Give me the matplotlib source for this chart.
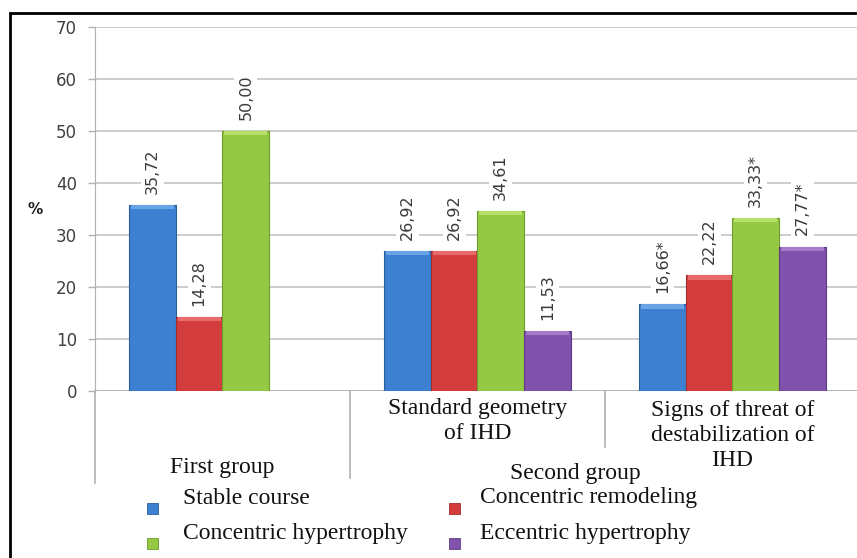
import matplotlib
matplotlib.use("Agg")
import matplotlib.pyplot as plt
import matplotlib.transforms as mtransforms
from matplotlib.patches import Rectangle
import numpy as np

# ---- data ----
categories = ["Standard geometry\nof IHD",
              "Signs of threat of\ndestabilization of\nIHD"]
groups = ["First group", "Second group"]
series = ["Stable course", "Concentric remodeling",
          "Concentric hypertrophy", "Eccentric hypertrophy"]
stable = [35.72, 26.92, 16.66]
remodeling = [14.28, 26.92, 22.22]
hypertrophy = [50.00, 34.61, 33.33]
eccentric = [np.nan, 11.53, 27.77]
labels_stable = ["35,72", "26,92", "16,66*"]
labels_remodeling = ["14,28", "26,92", "22,22"]
labels_hypertrophy = ["50,00", "34,61", "33,33*"]
labels_eccentric = ["", "11,53", "27,77*"]
yticks = [0, 10, 20, 30, 40, 50, 60, 70]

values = [stable, remodeling, hypertrophy, eccentric]
texts = [labels_stable, labels_remodeling, labels_hypertrophy, labels_eccentric]
colors = ["#3d80d2", "#d43d3d", "#95c943", "#8052ac"]
edges = ["#2a5f9e", "#a02c2c", "#6f9a2e", "#5e3c82"]
tops = ["#6aa3e6", "#e86a6a", "#b6e06a", "#a47cc9"]

W, H = 857, 558
fig = plt.figure(figsize=(W / 100, H / 100), dpi=100)
fig.patch.set_facecolor("white")

# plot area in pixel units
left, right, top, bottom = 95, 860, 27, 391
ax = fig.add_axes([left / W, 1 - bottom / H, (right - left) / W, (bottom - top) / H])
ax.set_xlim(-0.5, 2.5)
ax.set_ylim(0, 70)

x = np.arange(3)
bw = 0.1824
for i, (vals, lab) in enumerate(zip(values, texts)):
    xs = x + (i - 1.5) * bw
    v = np.array(vals, dtype=float)
    ok = ~np.isnan(v)
    ax.bar(xs[ok], v[ok], width=bw, color=colors[i], edgecolor=edges[i],
           linewidth=0.8, zorder=3)
    # light bevel cap on top of each bar
    ax.bar(xs[ok], np.full(ok.sum(), 0.8), bottom=v[ok] - 0.8, width=bw * 0.92,
           color=tops[i], linewidth=0, zorder=4)
    for xx, vv, tt in zip(xs, v, lab):
        if np.isnan(vv):
            continue
        ax.annotate(tt, (xx, vv), xytext=(0, 8), textcoords="offset points",
                    rotation=90, ha="center", va="bottom", fontsize=11.5,
                    color="#3a3a3a", family="DejaVu Sans", zorder=5,
                    bbox=dict(boxstyle="square,pad=0.25", fc="white", ec="none"))

# grid and axis styling
ax.set_yticks(yticks)
ax.set_yticklabels([str(t) for t in yticks], fontsize=12, color="#404040")
ax.yaxis.grid(True, color="#c3c3c3", linewidth=1.2, zorder=0)
ax.set_axisbelow(True)
ax.tick_params(axis="y", length=5, width=1, color="#b0b0b0", pad=8)
ax.set_xticks([])
for s in ["top", "right", "bottom"]:
    ax.spines[s].set_visible(False)
ax.spines["left"].set_color("#b0b0b0")
ax.spines["left"].set_bounds(0, 70)
ax.axhline(0, color="#b0b0b0", linewidth=1.2, zorder=2)

# y-axis caption
fig.text(35 / W, 1 - 210 / H, "%", fontsize=11, fontweight="bold",
         ha="center", va="center", color="#202020")

# multi-level category axis below the plot
trans = mtransforms.blended_transform_factory(ax.transData, ax.transAxes)
ph = bottom - top
def yfrac(py):
    return (bottom - py) / ph

ax.plot([-0.5, -0.5], [0, yfrac(483)], transform=trans, color="#b0b0b0",
        lw=1.2, clip_on=False)
ax.plot([0.5, 0.5], [0, yfrac(478)], transform=trans, color="#b0b0b0",
        lw=1.2, clip_on=False)
ax.plot([1.5, 1.5], [0, yfrac(447)], transform=trans, color="#b0b0b0",
        lw=1.2, clip_on=False)

serif = "Liberation Serif"
ax.text(1, yfrac(398), categories[0], transform=trans, ha="center", va="top",
        fontsize=17, family=serif, linespacing=1.25, color="#111111")
ax.text(2, yfrac(400), categories[1], transform=trans, ha="center", va="top",
        fontsize=17, family=serif, linespacing=1.25, color="#111111")
ax.text(0, yfrac(467), groups[0], transform=trans, ha="center", va="center",
        fontsize=17, family=serif, color="#111111")
ax.text(1.382, yfrac(473), groups[1], transform=trans, ha="center", va="center",
        fontsize=17, family=serif, color="#111111")

# legend laid out in two columns
leg_pos = [(152, 183, 498), (454, 480, 498), (152, 183, 533), (454, 480, 533)]
for (mx, tx, ty), name, c, e in zip(leg_pos, series, colors, edges):
    sz = 11
    fig.patches.append(Rectangle(((mx - sz / 2) / W, 1 - (ty + 10 + sz / 2) / H),
                                 sz / W, sz / H, transform=fig.transFigure,
                                 facecolor=c, edgecolor=e, linewidth=0.6))
    fig.text(tx / W, 1 - ty / H, name, fontsize=17, family=serif,
             ha="left", va="center", color="#111111")

# outer frame
fig.patches.append(Rectangle((10 / W, -0.2), 1.2, 1.2 + (1 - 13 / H) - 1.0,
                             transform=fig.transFigure, fill=False,
                             edgecolor="black", linewidth=2))

fig.savefig("out.png", dpi=100, facecolor="white")
